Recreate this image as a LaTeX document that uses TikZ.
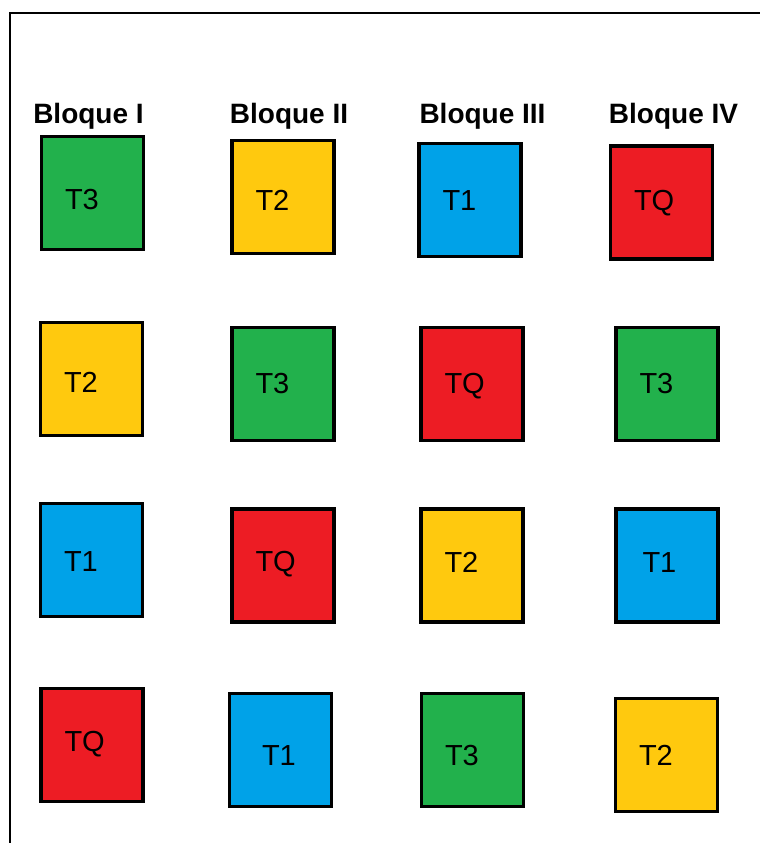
\documentclass[tikz,border=0pt]{standalone}
\usepackage{fontspec}
\setmainfont{Liberation Sans}
\definecolor{pgreen}{HTML}{22B14C}
\definecolor{pyellow}{HTML}{FFC90E}
\definecolor{pblue}{HTML}{00A2E8}
\definecolor{pred}{HTML}{ED1C24}
\begin{document}
\begin{tikzpicture}[x=1pt, y=-1pt,
	plot/.style={draw, line width=3.2pt, minimum width=102pt, minimum height=113pt,
		text width=55pt, align=left, inner xsep=23.5pt, inner ysep=0pt,
		text height=21pt, text depth=0pt,
		font=\fontsize{29}{34}\selectfont},
	bloque/.style={font=\fontsize{28}{33}\selectfont\bfseries, inner sep=0pt, anchor=base}]
	\useasboundingbox (0,0) rectangle (760,843);
	\draw[line width=2pt] (10,843) -- (10,13) -- (760,13);

	\node[bloque] (hI)   at (88.5,123) {Bloque I};
	\node[bloque] (hII)  at (289,123) {Bloque II};
	\node[bloque] (hIII) at (482.5,123) {Bloque III};
	\node[bloque] (hIV)  at (673.5,123) {Bloque IV};

	\node[plot, fill=pgreen, text height=33pt]  (b1a) at (92.5,193) {T3};
	\node[plot, fill=pyellow, text height=27pt] (b1b) at (91.5,379) {T2};
	\node[plot, fill=pblue, text height=23pt]   (b1c) at (91.5,560) {T1};
	\node[plot, fill=pred, text height=13pt]    (b1d) at (92,745) {TQ};

	\node[plot, fill=pyellow, text height=27pt] (b2a) at (283,197) {T2};
	\node[plot, fill=pgreen, text height=19pt]  (b2b) at (283,384) {T3};
	\node[plot, fill=pred, text height=12pt]    (b2c) at (283,565.5) {TQ};
	\node[plot, fill=pblue, text height=31pt]   (b2d) at (280.5,750) {\hspace*{9pt}T1};

	\node[plot, fill=pblue]                     (b3a) at (470,200) {T1};
	\node[plot, fill=pred, text height=19pt]    (b3b) at (472,384) {TQ};
	\node[plot, fill=pyellow, text height=14pt] (b3c) at (472,565.5) {T2};
	\node[plot, fill=pgreen, text height=31pt]  (b3d) at (472.5,750) {T3};

	\node[plot, fill=pred, text height=16pt]    (b4a) at (661.5,202.5) {TQ};
	\node[plot, fill=pgreen, text height=19pt]  (b4b) at (667,384) {T3};
	\node[plot, fill=pblue, text height=14pt]   (b4c) at (667,565.5) {\hspace*{3pt}T1};
	\node[plot, fill=pyellow]                   (b4d) at (666.5,755) {T2};
\end{tikzpicture}
\end{document}
